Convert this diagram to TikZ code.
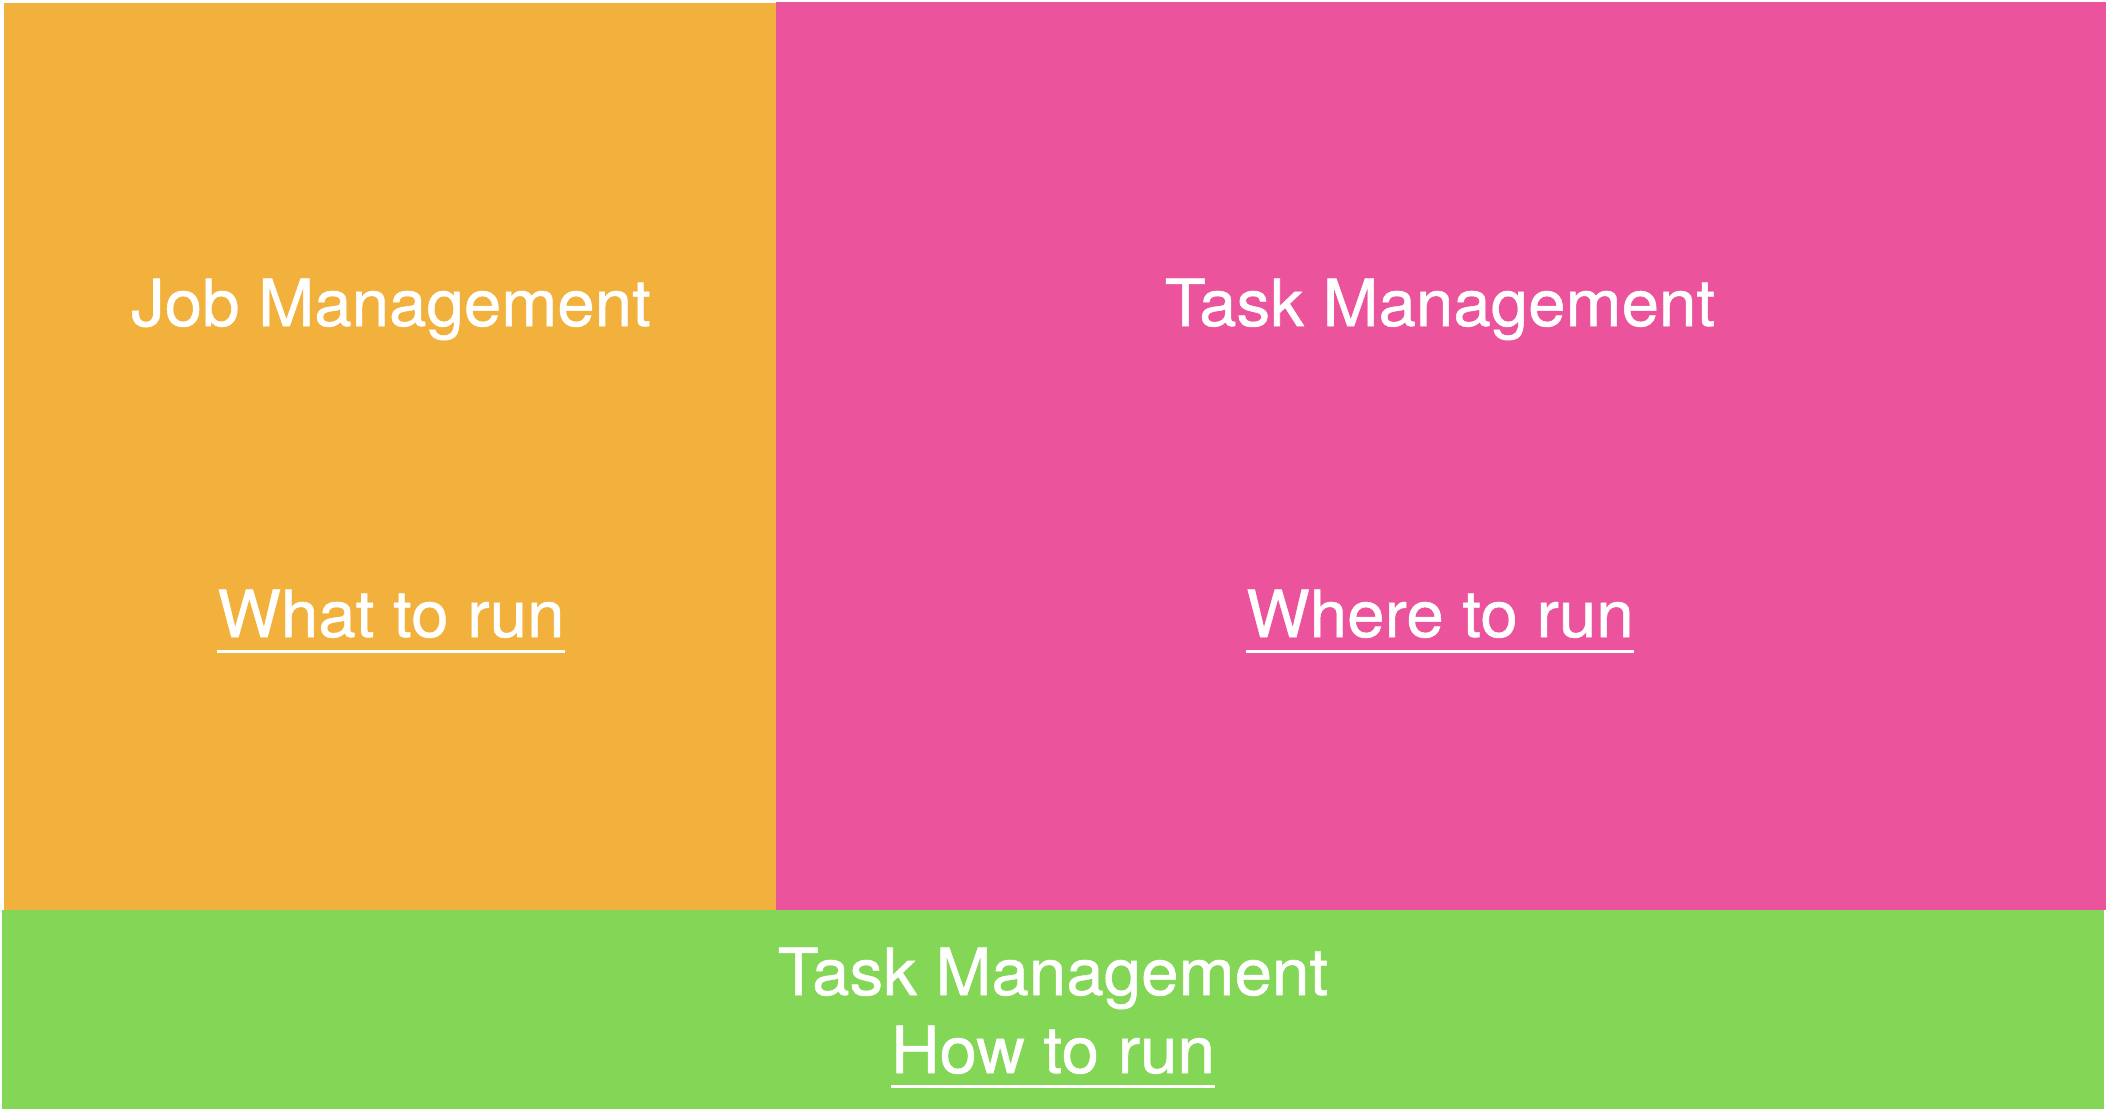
\documentclass[tikz,border=0pt]{standalone}
\usepackage{fontspec}
\setmainfont{TeX Gyre Heros}[FakeStretch=1.035,FakeBold=0.8]
\definecolor{jobor}{RGB}{242,177,61}
\definecolor{taskpk}{RGB}{235,83,156}
\definecolor{howgr}{RGB}{132,214,86}
\begin{document}
\begin{tikzpicture}[x=1pt,y=-1pt,
  lbl/.style={text=white,inner sep=0pt,anchor=base,font=\fontsize{65}{78}\selectfont},
  uline/.style={white,line width=3pt}]
\useasboundingbox (0,0) rectangle (2108,1112);
\fill[white] (0,0) rectangle (2108,1112);
\fill[jobor] (4,3) rectangle (776,910);
\fill[taskpk] (776,2) rectangle (2106,910);
\fill[howgr] (2,910) rectangle (2104,1109);
\node[lbl] (jm) at (391,326) {Job Management};
\node[lbl] (tm) at (1440,326) {Task Management};
\node[lbl] (wt) at (391,637) {What to run};
\node[lbl] (wh) at (1440,637) {Where to run};
\node[lbl] (tg) at (1053,995) {Task Management};
\node[lbl] (hw) at (1053,1073) {How to run};
\draw[uline] ([yshift=-14pt]wt.base west) -- ([yshift=-14pt]wt.base east);
\draw[uline] ([yshift=-14pt]wh.base west) -- ([yshift=-14pt]wh.base east);
\draw[uline] ([yshift=-13pt]hw.base west) -- ([yshift=-13pt]hw.base east);
\end{tikzpicture}
\end{document}
